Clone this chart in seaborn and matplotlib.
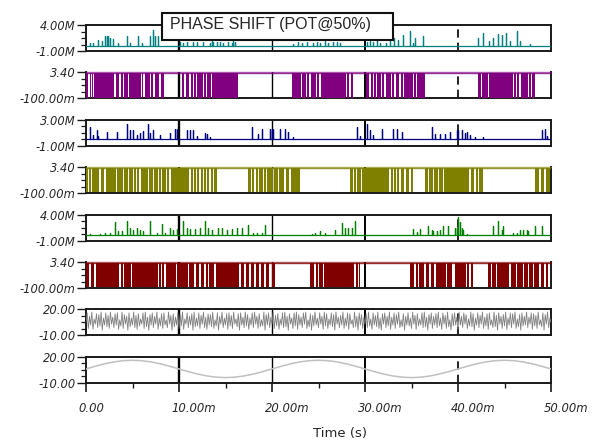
import numpy as np
import pandas as pd
import matplotlib
matplotlib.use('Agg')
import matplotlib.pyplot as plt
import matplotlib.transforms as mtransforms
from matplotlib.ticker import FixedLocator
from matplotlib.patches import Rectangle
import seaborn as sns

sns.set_style('white')
plt.rcParams['font.family'] = ['DejaVu Sans']

TITLE = 'PHASE SHIFT (POT@50%)'
X_LABEL = 'Time (s)'
X_TICKS = [0, 10, 20, 30, 40, 50]
X_MINOR = [5, 15, 25, 35, 45]
X_TICK_LABELS = ['0.00', '10.00m', '20.00m', '30.00m', '40.00m', '50.00m']

Y_LIMITS = [(-1, 4), (-0.1, 3.4), (-1, 3), (-0.1, 3.4),
            (-1, 4), (-0.1, 3.4), (-10, 20), (-10, 20)]
Y_TICK_LABELS = [('-1.00M', '4.00M'), ('-100.00m', '3.40'), ('-1.00M', '3.00M'),
                 ('-100.00m', '3.40'), ('-1.00M', '4.00M'), ('-100.00m', '3.40'),
                 ('-10.00', '20.00'), ('-10.00', '20.00')]
COLORS = ['#008080', '#800080', '#000080', '#808000',
          '#008000', '#800000', '#808080', '#c0c0c0']

# ---- spike signals (time in ms, height in M) ----
teal_t = [0.43, 0.79, 1.33, 1.68, 2.04, 2.22, 2.40, 2.58, 2.94, 3.48, 4.37, 4.73, 5.63, 5.99,
          6.88, 7.24, 7.42, 7.78,
          10.11, 10.47, 10.82, 11.54, 11.90, 12.62, 13.33, 13.51, 13.69, 14.05, 14.41, 14.77,
          15.30, 15.66, 15.84, 16.02,
          22.29, 22.83, 23.19, 23.73, 24.44, 24.80, 25.16, 25.70, 26.06, 26.59, 26.95, 27.31,
          30.2, 30.5, 30.9, 31.3, 31.6, 32.3, 32.7, 33.1, 33.6, 34.1, 34.8, 35.2, 35.4, 36.2,
          42.2, 42.7, 43.3, 43.8, 44.3, 44.7, 45.2, 45.6, 46.3, 46.7, 47.7]
teal_h = [0.5, 0.6, 1.2, 1.0, 1.8, 1.8, 1.8, 1.5, 1.3, 0.6, 1.8, 0.5, 1.8, 0.5,
          1.8, 3.1, 1.8, 1.8,
          0.8, 0.6, 0.8, 0.7, 0.8, 0.7, 0.6, 0.9, 0.8, 0.7, 0.8, 0.6,
          0.8, 0.5, 0.9, 0.7,
          0.4, 0.8, 0.5, 0.7, 0.6, 0.8, 0.5, 0.9, 0.6, 0.8, 0.7, 0.5,
          0.8, 1.0, 0.8, 1.8, 0.6, 0.5, 1.0, 1.5, 1.2, 2.0, 2.9, 0.5, 1.5, 1.9,
          1.5, 2.5, 1.0, 1.5, 2.2, 2.0, 2.5, 1.0, 2.8, 1.0, 0.3]

blue_t = [0.43, 0.79, 1.15, 1.33, 2.22, 3.30, 4.37, 4.73, 5.09, 5.45, 5.81, 6.16, 6.70, 6.88,
          7.24, 7.96, 9.03, 9.57, 9.75,
          10.82, 11.18, 11.54, 11.90, 12.80, 12.97, 13.33,
          17.81, 18.53, 18.89, 19.78, 19.96, 20.14, 20.86, 21.40, 21.76, 22.29,
          29.10, 29.46, 30.18, 30.54, 30.90, 31.79, 33.05, 33.41, 33.94,
          37.17, 37.53, 38.06, 38.60, 39.14, 39.86, 40.04, 40.39, 40.75, 40.93, 41.29, 41.83, 42.72,
          49.00, 49.35, 49.53]
blue_h = [1.9, 0.6, 1.4, 0.5, 1.1, 1.1, 2.4, 1.5, 1.5, 0.6, 1.0, 1.3, 2.4, 1.0,
          1.5, 0.6, 1.0, 1.6, 1.6,
          1.4, 1.4, 1.4, 0.5, 1.0, 0.8, 0.3,
          1.9, 0.8, 1.6, 1.6, 1.6, 1.6, 1.6, 1.6, 1.2, 0.3,
          1.9, 0.5, 2.4, 1.4, 0.6, 1.6, 1.6, 1.6, 1.2,
          1.9, 0.8, 0.8, 0.8, 1.2, 1.4, 1.4, 1.4, 1.0, 1.2, 0.6, 0.3, 0.3,
          1.5, 1.6, 0.5]

green_t = [0.43, 1.51, 2.04, 2.58, 3.12, 3.48, 3.84, 4.37, 4.73, 5.09, 5.45, 5.81, 6.16, 6.88,
           7.60, 8.14, 8.49, 9.03, 9.39, 9.75,
           10.47, 10.82, 11.18, 11.72, 12.26, 12.80, 13.15, 13.51, 14.23, 14.59, 15.13, 15.66,
           16.20, 16.74, 17.46, 17.99, 18.35, 18.89, 19.25,
           24.27, 24.62, 25.16, 25.70, 26.77, 27.49, 27.85, 28.21, 28.57, 28.92,
           35.20, 35.56, 35.91, 36.81, 37.17, 37.35, 37.71, 38.06, 38.42, 38.96, 39.68, 39.86,
           40.04, 40.22, 40.39, 40.57, 40.93,
           43.80, 44.34, 44.70, 44.87, 45.95, 46.31, 46.67, 47.03, 47.38, 47.56, 48.28, 49.00]
green_h = [0.3, 0.3, 0.5, 0.5, 2.5, 0.8, 0.8, 2.7, 1.5, 1.0, 1.4, 1.0, 0.8, 2.8,
           0.5, 2.2, 0.5, 1.5, 1.0, 1.2,
           2.8, 1.5, 1.2, 1.2, 1.5, 2.7, 1.5, 1.0, 1.5, 1.5, 1.0, 1.2,
           1.5, 1.5, 2.0, 0.5, 0.5, 0.5, 2.0,
           0.3, 0.5, 0.8, 0.5, 1.0, 2.3, 1.5, 1.5, 1.5, 2.7,
           1.2, 0.6, 1.2, 1.8, 1.0, 0.8, 0.8, 1.0, 1.8, 1.8, 1.5, 1.5,
           3.5, 2.5, 1.5, 1.0, 0.3,
           1.8, 2.7, 1.0, 1.8, 0.5, 0.5, 1.0, 1.0, 1.0, 0.8, 1.8, 1.8]

# ---- digital pulse signals: busy blocks (ms) and white gaps inside them ----
PULSE_HIGH = 3.3
purple_blocks = [(0.0, 8.39), (10.29, 16.38), (22.19, 28.75), (30.11, 36.45), (42.19, 48.28)]
purple_gaps = [0.32, 0.57, 0.79, 3.12, 3.66, 4.01, 4.55, 5.99, 6.24, 6.95, 7.31, 7.96,
               10.65, 11.18, 11.54, 11.90, 12.62, 12.97, 13.51,
               23.19, 23.73, 24.09, 24.80, 25.16, 28.03, 28.39,
               30.54, 30.90, 31.25, 31.79, 32.15, 32.87, 33.23, 33.76, 34.12, 35.20, 35.56,
               42.54, 43.26, 45.95, 46.31, 46.67, 47.56, 47.92]
olive_blocks = [(0.0, 14.05), (17.46, 23.01), (28.39, 35.20), (36.45, 42.72), (48.28, 49.89)]
olive_gaps = [0.25, 0.61, 1.51, 2.04, 3.30, 4.01, 4.55, 5.09, 5.45, 5.81, 6.70, 7.24, 7.78,
              8.14, 8.67, 9.03, 11.18, 11.54, 11.90, 12.26, 12.62, 12.97, 13.33, 13.69,
              17.81, 18.17, 18.53, 19.07, 19.43, 20.14, 20.68, 21.40, 21.94,
              28.75, 29.10, 29.64, 32.69, 33.05, 33.41, 33.76, 34.30, 34.84,
              36.81, 37.35, 37.89, 38.42, 41.29, 41.83, 42.19,
              48.82, 49.35]
red_blocks = [(0.0, 20.32), (24.09, 29.46), (34.84, 39.32), (39.68, 41.65), (43.26, 49.71)]
red_gaps = [0.43, 0.97, 3.66, 4.01, 4.91, 7.78, 8.14, 8.49, 9.75, 11.00, 11.72, 12.26, 12.80,
            13.15, 13.87, 16.56, 17.10, 17.63, 18.17, 18.71, 19.25, 19.78, 19.96,
            24.62, 24.98, 25.52, 28.92, 29.28,
            35.38, 35.73, 36.45, 36.99, 37.53, 38.78,
            40.93, 41.29,
            43.62, 44.16, 45.59, 46.31, 47.03, 47.56, 48.10, 48.82, 49.35]

# ---- analog signals ----
noise_step = 0.125  # ms between samples
noise_v = [5, 16, -2, 12, 2, 17, -3, 9, 3, 15, -1, 14, 1, 17, -4, 10, 2, 16, 0, 13,
           -2, 17, 3, 11, -1, 15, 2, 16, -3, 8, 1, 17, -2, 14, 3, 12, -4, 16, 0, 10,
           2, 17, -1, 13, -3, 15, 1, 9, 3, 16, -2, 17, 0, 11, -4, 14, 2, 16, -1, 12,
           3, 17, -3, 10, 1, 15, -2, 16, 2, 8, -1, 17, 3, 13, -4, 15, 0, 11, 2, 16,
           -2, 14, 1, 17, -3, 9, 3, 16, -1, 12, 2, 15, -4, 17, 0, 10, 1, 16, -2, 13,
           3, 17, -1, 11, -3, 15, 2, 14, 0, 17, -2, 8, 1, 16, -4, 12, 3, 17, -1, 10,
           2, 15, -3, 16, 1, 13, -2, 17, 3, 9, 0, 15, -4, 16, 2, 11, -1, 17, 1, 14,
           -3, 10, 2, 16, -1, 17, 3, 12, -2, 15, 0, 8, 1, 17, -4, 14, 2, 16, -1, 11,
           3, 17, -2, 13, 1, 15, -3, 9, 2, 16, -1, 17, 0, 12, -4, 15, 3, 10, -2, 16,
           1, 17, -3, 14, 2, 11, -1, 16, 3, 17, -2, 8, 0, 15, -4, 13, 1, 17, 2, 10,
           -1, 16, 3, 12, -3, 17, 1, 15, -2, 9, 2, 16, 0, 14, -4, 17, 3, 11, -1, 13,
           2, 17, -2, 10, 1, 16, -3, 15, 3, 8, -1, 17, 0, 12, -4, 16, 2, 14, -2, 11,
           3, 15, -1, 17, 1, 9, -3, 16, 2, 13, 0, 17, -2, 10, -4, 15, 3, 16, -1, 12,
           1, 17, -3, 11, 2, 16, -2, 14, 3, 17, -1, 8, 0, 15, -4, 12, 2, 16, 1, 10,
           -2, 17, 3, 13, -3, 15, 1, 9, 2, 16, -1, 17, 0, 11, -4, 14, 3, 16, -2, 12,
           2, 15, -1, 17, 1, 10, -3, 16, 3, 13, -2, 17, 0, 8, -4, 15, 1, 16, 2, 11,
           -3, 17, 2, 12, -1, 16, 3, 14, -2, 9, 1, 17, 0, 15, -4, 10, 2, 16, -1, 13,
           3, 17, -2, 11, 1, 15, -3, 16, 2, 8, -1, 17, 0, 13, -4, 16, 3, 12, -2, 14,
           1, 17, -3, 10, 2, 16, -1, 15, 3, 17, -2, 9, 0, 14, -4, 16, 1, 12, 2, 17,
           -1, 11, 3, 16, -3, 15, 1, 13, -2, 17, 2, 8, 0, 16, -4, 14, 3, 17, -1, 10,
           5]
sine_step = 1.0
sine_v = [6, 9.1, 11.9, 14.1, 15.5, 16, 15.5, 14.1, 11.9, 9.1,
          6, 2.9, 0.1, -2.1, -3.5, -4, -3.5, -2.1, 0.1, 2.9,
          6, 9.1, 11.9, 14.1, 15.5, 16, 15.5, 14.1, 11.9, 9.1,
          6, 2.9, 0.1, -2.1, -3.5, -4, -3.5, -2.1, 0.1, 2.9,
          6, 9.1, 11.9, 14.1, 15.5, 16, 15.5, 14.1, 11.9, 9.1, 6]

T_END = 50.0
GAP_W = 0.12


def spike_frame(ts, hs):
    xs, ys = [0.0], [0.0]
    for t, h in zip(ts, hs):
        xs += [t, t, t]
        ys += [0.0, h, 0.0]
    xs.append(T_END)
    ys.append(0.0)
    return pd.DataFrame({'t': xs, 'v': ys})


def pulse_segments(blocks, gaps):
    segs = []
    for a, b in blocks:
        start = a
        for g in sorted(gaps):
            if a < g < b:
                segs.append((start, g - GAP_W / 2))
                start = g + GAP_W / 2
        segs.append((start, b))
    return segs


fig = plt.figure(figsize=(6.11, 4.45), dpi=100)
W, H = 611.0, 445.0
left_px, right_px = 86.0, 551.0
axes = []
for i in range(8):
    top = 25.0 + i * 47.4
    h = 26.0
    ax = fig.add_axes([left_px / W, 1 - (top + h) / H, (right_px - left_px) / W, h / H])
    axes.append(ax)

spike_sets = {0: (teal_t, teal_h), 2: (blue_t, blue_h), 4: (green_t, green_h)}
pulse_sets = {1: (purple_blocks, purple_gaps), 3: (olive_blocks, olive_gaps),
              5: (red_blocks, red_gaps)}

for i, ax in enumerate(axes):
    lo, hi = Y_LIMITS[i]
    col = COLORS[i]
    for xg, lw, ls in [(10, 1.7, '-'), (20, 1.0, '-'), (30, 1.4, '-'), (40, 1.2, (0, (5, 3)))]:
        ax.axvline(xg, color='black', lw=lw, ls=ls, zorder=1)
    if i in spike_sets:
        df = spike_frame(*spike_sets[i])
        sns.lineplot(data=df, x='t', y='v', sort=False, estimator=None, ax=ax,
                     color=col, lw=0.9, zorder=3)
    elif i in pulse_sets:
        segs = pulse_segments(*pulse_sets[i])
        xs, ys = [0.0], [0.0]
        for s, e in segs:
            xs += [s, e]
            ys += [PULSE_HIGH, 0.0]
        xs.append(T_END)
        ys.append(0.0)
        ax.fill_between(xs, 0, ys, step='post', color=col, lw=0, zorder=3)
        ax.axhline(PULSE_HIGH, color=col, lw=1.0, alpha=0.8, zorder=3)
    elif i == 6:
        df = pd.DataFrame({'t': np.arange(len(noise_v)) * noise_step, 'v': noise_v})
        sns.lineplot(data=df, x='t', y='v', sort=False, estimator=None, ax=ax,
                     color=col, lw=0.6, zorder=3)
    else:
        df = pd.DataFrame({'t': np.arange(len(sine_v)) * sine_step, 'v': sine_v})
        sns.lineplot(data=df, x='t', y='v', sort=False, estimator=None, ax=ax,
                     color=col, lw=1.1, zorder=3)

    ax.set_xlim(0, T_END)
    ax.set_ylim(lo, hi)
    ax.set_xlabel('')
    ax.set_ylabel('')
    ax.set_facecolor('white')
    for name, sp in ax.spines.items():
        sp.set_visible(True)
        sp.set_color('#1a1a1a')
        sp.set_linewidth(1.4)
    if i in pulse_sets:
        ax.spines['top'].set_color(col)
        ax.spines['top'].set_linewidth(1.0)
        ax.spines['top'].set_alpha(0.6)

    ax.set_yticks([lo, hi])
    ax.set_yticklabels(list(Y_TICK_LABELS[i]))
    ax.yaxis.set_minor_locator(FixedLocator([lo + k * (hi - lo) / 4 for k in (1, 2, 3)]))
    ax.tick_params(axis='y', which='major', direction='out', length=6.5, width=1.0,
                   labelsize=8.3, pad=1, left=True, color='#1a1a1a')
    ax.tick_params(axis='y', which='minor', direction='out', length=3.5, width=0.9,
                   left=True, color='#1a1a1a')
    for lbl in ax.get_yticklabels():
        lbl.set_fontstyle('italic')

    if i < 7:
        ax.set_xticks([])
    else:
        ax.set_xticks(X_TICKS)
        ax.set_xticklabels(X_TICK_LABELS)
        ax.xaxis.set_minor_locator(FixedLocator(X_MINOR))
        ax.tick_params(axis='x', which='major', direction='out', length=6.5, width=1.2,
                       labelsize=8.4, pad=7, bottom=True, color='#1a1a1a')
        ax.tick_params(axis='x', which='minor', direction='out', length=3.5, width=1.0,
                       bottom=True, color='#1a1a1a')
        offset = mtransforms.ScaledTranslation(-7.5 / 100, 0, fig.dpi_scale_trans)
        for lbl in ax.get_xticklabels():
            lbl.set_fontstyle('italic')
            lbl.set_horizontalalignment('left')
            lbl.set_transform(lbl.get_transform() + offset)

box = Rectangle((162 / W, 1 - 40 / H), 231 / W, 27 / H, transform=fig.transFigure,
                facecolor='white', edgecolor='#111111', lw=1.5, zorder=10)
fig.patches.append(box)
fig.text(270 / W, 1 - 25 / H, TITLE, ha='center', va='center', fontsize=11.5,
         family=['Liberation Sans', 'DejaVu Sans'], zorder=11)
fig.text(340 / W, 1 - 433 / H, X_LABEL, ha='center', va='center', fontsize=9.5, zorder=11)

fig.savefig('out.png', dpi=100, facecolor='white')
